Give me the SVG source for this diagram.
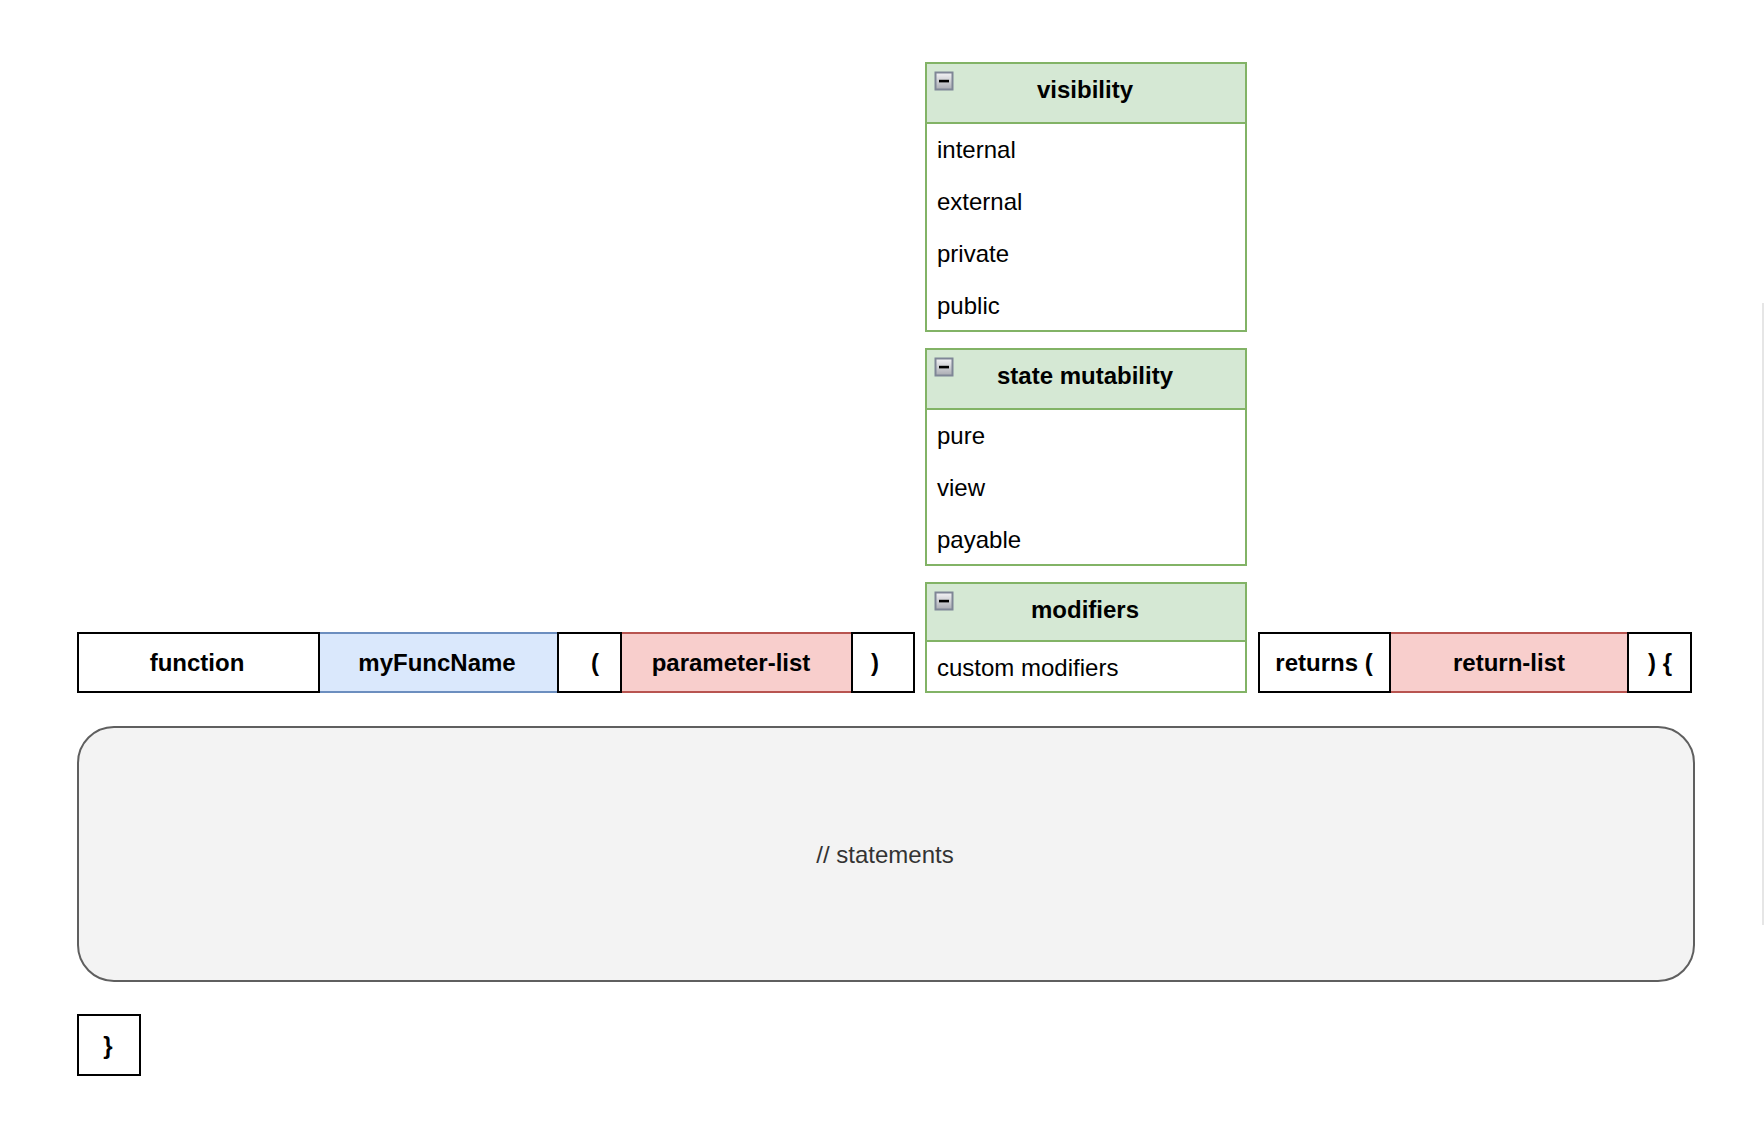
<svg xmlns="http://www.w3.org/2000/svg" width="1764" height="1124" viewBox="0 0 1764 1124">
<defs>
<linearGradient id="ig" x1="0" y1="0" x2="0" y2="1">
<stop offset="0" stop-color="#f4f4f6"/>
<stop offset="1" stop-color="#a9abb2"/>
</linearGradient>
<g id="minus">
<rect x="0" y="0" width="17" height="17" fill="url(#ig)" stroke="#7f8696" stroke-width="2"/>
<rect x="3.5" y="7.3" width="10" height="2.6" fill="#000"/>
</g>
</defs>
<style>
text{font-family:"Liberation Sans",Arial,Helvetica,sans-serif;font-size:24px;fill:#000}
.b{font-weight:bold;text-anchor:middle;dominant-baseline:central}
.i{dominant-baseline:central}
.blk{fill:#fff;stroke:#000;stroke-width:2}
.blue{fill:#dae8fc;stroke:#6c8ebf;stroke-width:2}
.red{fill:#f8cecc;stroke:#b85450;stroke-width:2}
.gh{fill:#d5e8d4;stroke:#82b366;stroke-width:2}
.gb{fill:#fff;stroke:#82b366;stroke-width:2}
</style>
<rect width="1764" height="1124" fill="#fff"/>
<line x1="1763" y1="303" x2="1763" y2="925" stroke="#dedede" stroke-width="1.5"/>

<g id="visibility">
<rect class="gb" x="926" y="63" width="320" height="268"/>
<rect class="gh" x="926" y="63" width="320" height="60"/>
<use href="#minus" x="935.5" y="72.5"/>
<text class="b" x="1085" y="89.5">visibility</text>
<text class="i" x="937" y="149">internal</text>
<text class="i" x="937" y="201">external</text>
<text class="i" x="937" y="253">private</text>
<text class="i" x="937" y="305">public</text>
</g>

<g id="state-mutability">
<rect class="gb" x="926" y="349" width="320" height="216"/>
<rect class="gh" x="926" y="349" width="320" height="60"/>
<use href="#minus" x="935.5" y="358.5"/>
<text class="b" x="1085" y="375.5">state mutability</text>
<text class="i" x="937" y="435">pure</text>
<text class="i" x="937" y="487">view</text>
<text class="i" x="937" y="539">payable</text>
</g>

<g id="modifiers">
<rect class="gb" x="926" y="583" width="320" height="109"/>
<rect class="gh" x="926" y="583" width="320" height="58"/>
<use href="#minus" x="935.5" y="592.5"/>
<text class="b" x="1085" y="609">modifiers</text>
<text class="i" x="937" y="667">custom modifiers</text>
</g>

<g id="myFuncName">
<rect class="blue" x="319" y="633" width="239" height="59"/>
<text class="b" x="437" y="662">myFuncName</text>
</g>
<g id="parameter-list">
<rect class="red" x="621" y="633" width="231" height="59"/>
<text class="b" x="731" y="662">parameter-list</text>
</g>
<g id="return-list">
<rect class="red" x="1390" y="633" width="238" height="59"/>
<text class="b" x="1509" y="662">return-list</text>
</g>
<g id="function">
<rect class="blk" x="78" y="633" width="241" height="59"/>
<text class="b" x="197" y="662">function</text>
</g>
<g id="open-paren">
<rect class="blk" x="558" y="633" width="63" height="59"/>
<text class="b" x="595" y="662">(</text>
</g>
<g id="close-paren">
<rect class="blk" x="852" y="633" width="62" height="59"/>
<text class="b" x="875" y="662">)</text>
</g>
<g id="returns">
<rect class="blk" x="1259" y="633" width="131" height="59"/>
<text class="b" x="1324" y="662">returns (</text>
</g>
<g id="close-brace-open">
<rect class="blk" x="1628" y="633" width="63" height="59"/>
<text class="b" x="1660" y="662">) {</text>
</g>

<g id="statements">
<rect x="78" y="727" width="1616" height="254" rx="36" ry="36" fill="#f3f3f3" stroke="#5f5f5f" stroke-width="2"/>
<text x="885" y="854" text-anchor="middle" dominant-baseline="central" style="fill:#333333">// statements</text>
</g>

<g id="close-brace">
<rect class="blk" x="78" y="1015" width="62" height="60"/>
<text class="b" x="108" y="1045">}</text>
</g>

<g id="connectors"></g>
</svg>
